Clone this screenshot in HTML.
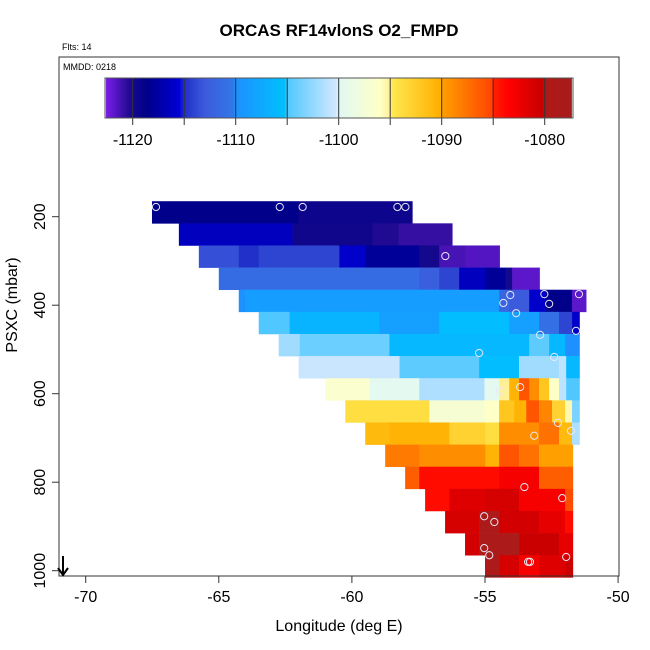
<!DOCTYPE html>
<html><head><meta charset="utf-8"><style>
body{margin:0;background:#fff;}
svg{display:block;font-family:"Liberation Sans",sans-serif;}
</style></head><body>
<svg id="chart" width="650" height="650" viewBox="0 0 650 650" xmlns="http://www.w3.org/2000/svg">
<rect width="650" height="650" fill="#fff"/>
<text x="339" y="36" text-anchor="middle" font-size="17" font-weight="bold">ORCAS RF14vlonS O2_FMPD</text>
<text x="62" y="50" font-size="9">Flts: 14</text>
<g id="cells"></g>
<g id="pts"></g>
<rect x="59" y="57" width="560" height="519" fill="none" stroke="#333" stroke-width="1"/>
<text x="63" y="70" font-size="9">MMDD: 0218</text>
<g id="cbar"></g>
<g id="axes"></g>
<text x="339" y="631" text-anchor="middle" font-size="16">Longitude (deg E)</text>
<text transform="translate(17,305) rotate(-90)" text-anchor="middle" font-size="16">PSXC (mbar)</text>
<g stroke="#000" stroke-width="2" fill="none">
<line x1="63" y1="556" x2="63" y2="575"/><polyline points="58,568 63,575 68,568"/>
</g>
</svg>
<script>
const rowPressures=[190,240,290,340,390,440,490,540,590,640,690,740,790,840,890,940,990];
const rowBreaks=[
[-67.51,-62.0,-57.73],
[-66.5,-62.23,-59.23,-58.25,-56.23],
[-65.75,-64.25,-63.5,-60.47,-59.49,-57.47,-56.72,-55.74,-54.45],
[-65.0,-57.47,-56.72,-55.97,-54.99,-54.24,-53.98,-52.95],
[-64.25,-64.02,-54.47,-54.09,-53.34,-52.74,-51.73,-51.2],
[-63.5,-62.34,-58.97,-56.72,-54.09,-52.97,-52.22,-51.73,-51.45],
[-62.75,-61.96,-58.59,-53.34,-52.59,-51.99,-51.45],
[-62.0,-58.21,-55.22,-53.72,-52.22,-51.95,-51.45],
[-61.0,-59.34,-57.47,-55.02,-54.47,-54.09,-53.72,-53.34,-52.97,-52.59,-52.22,-51.95,-51.45],
[-60.25,-57.09,-55.02,-54.47,-53.9,-53.45,-52.97,-52.48,-51.99,-51.73,-51.45],
[-59.5,-58.59,-56.34,-54.99,-54.47,-52.97,-52.22,-51.73,-51.45],
[-58.75,-57.47,-54.99,-54.47,-53.72,-52.97,-51.7],
[-58.0,-57.47,-54.47,-52.97,-51.7],
[-57.25,-56.34,-54.99,-53.72,-51.99,-51.7],
[-56.5,-55.22,-54.47,-52.97,-51.99,-51.7],
[-55.75,-55.22,-53.72,-52.22,-51.7],
[-55.0,-54.47,-53.72,-52.97,-51.99,-51.7]
];
const rowValues=[
[-1118.5,-1119.5],
[-1116.5,-1119.6,-1120.3,-1120.8],
[-1113.5,-1115,-1114,-1116,-1118,-1120,-1121.3,-1121.6],
[-1111.3,-1112.5,-1114,-1116.5,-1118,-1120,-1121.8],
[-1110,-1108.6,-1112,-1113,-1116,-1118.5,-1121.8],
[-1105,-1106.5,-1108.5,-1105.5,-1108.5,-1111,-1114,-1116],
[-1102,-1104,-1106,-1104.5,-1106,-1110],
[-1100.5,-1104.5,-1105.5,-1102,-1101,-1106],
[-1096.5,-1099.5,-1101.5,-1099.5,-1095,-1090.5,-1086,-1089,-1092,-1096,-1101,-1105],
[-1094,-1097,-1096,-1092,-1090.5,-1086,-1088.5,-1093,-1095.5,-1103.5],
[-1091,-1090.5,-1093,-1094,-1089,-1087.5,-1091,-1101.5],
[-1088,-1089,-1090.5,-1086,-1087.5,-1090],
[-1086.5,-1084,-1083,-1086.5],
[-1084,-1081.5,-1081,-1083,-1085.5],
[-1081,-1079,-1080.8,-1082,-1084],
[-1080.8,-1079,-1080.3,-1082],
[-1079,-1081,-1083,-1081.5,-1080.5]
];
const pointLons=[-67.36,-62.71,-61.85,-58.29,-57.99,-56.49,-54.05,-54.31,-52.77,-52.59,-51.47,-53.83,-52.93,-51.58,-55.22,-52.40,-54.43,-53.68,-52.26,-51.77,-53.15,-53.52,-52.10,-55.03,-54.65,-55.03,-54.84,-53.38,-53.31,-51.95];
const pointPres=[178,178,178,178,178,289,377,395,375,397,375,418,467,458,508,517,594,585,666,684,695,811,836,877,890,949,965,980,980,969];
const xTicks=[-70,-65,-60,-55,-50];
const yTicks=[200,400,600,800,1000];
const cbTicks=[-1120,-1110,-1100,-1090,-1080];
const cbBounds=[-1122.6,-1120,-1115,-1110,-1105,-1100,-1095,-1090,-1085,-1080,-1077.4];

const NS="http://www.w3.org/2000/svg";
const xs=lon=>85.7+(lon+70)*26.62;
const ys=p=>216.7+(p-200)*0.4425;
const cbx=v=>132.7+(v+1120)*10.3;
const stops=[[-1122.6,[122,30,232]],[-1120.5,[40,12,150]],[-1120,[20,8,140]],[-1118.5,[0,0,139]],[-1115.5,[0,0,215]],[-1115,[32,48,200]],[-1113,[60,90,220]],[-1110.2,[50,120,232]],[-1110,[30,144,255]],[-1105.2,[0,192,255]],[-1105,[80,200,255]],[-1100.2,[210,232,255]],[-1100,[224,248,244]],[-1096,[255,255,200]],[-1095,[255,240,150]],[-1094.8,[255,232,80]],[-1090.2,[255,176,0]],[-1090,[255,160,0]],[-1085.2,[255,70,0]],[-1085,[255,32,0]],[-1083.5,[255,0,0]],[-1080.2,[200,0,0]],[-1080,[176,24,24]],[-1077.4,[168,28,28]]];
function col(v){
  if(v<=stops[0][0])return `rgb(${stops[0][1]})`;
  for(let i=1;i<stops.length;i++){if(v<=stops[i][0]){const a=stops[i-1],b=stops[i];const t=(v-a[0])/(b[0]-a[0]);
    return `rgb(${a[1].map((c,k)=>Math.round(c+(b[1][k]-c)*t)).join(',')})`;}}
  return `rgb(${stops[stops.length-1][1]})`;
}
const cells=document.getElementById('cells');
rowPressures.forEach((p,r)=>{
  const br=rowBreaks[r],vals=rowValues[r];
  vals.forEach((v,i)=>{
    const el=document.createElementNS(NS,'rect');
    
    
    const x0=xs(br[i]),x1=xs(br[i+1]);
    el.setAttribute('x',x0);el.setAttribute('width',x1-x0+0.3);
    el.setAttribute('y',ys(p-25));el.setAttribute('height',ys(p+25)-ys(p-25)+0.3);
    el.setAttribute('fill',col(v));cells.appendChild(el);
  });
});
const pts=document.getElementById('pts');
pointLons.forEach((lon,i)=>{
  const c=document.createElementNS(NS,'circle');
  
  
  c.setAttribute('cx',xs(lon));c.setAttribute('cy',ys(pointPres[i]));c.setAttribute('r',3.6);
  c.setAttribute('fill','none');c.setAttribute('stroke','#e8e8f8');c.setAttribute('stroke-width','1');
  pts.appendChild(c);
});
const cb=document.getElementById('cbar');
const N=200;
for(let i=0;i<N;i++){
  const v0=-1122.6+i*(45.2/N),v1=v0+45.2/N;
  const r=document.createElementNS(NS,'rect');
  
  
  r.setAttribute('x',cbx(v0));r.setAttribute('width',cbx(v1)-cbx(v0)+0.4);
  r.setAttribute('y',78);r.setAttribute('height',40);r.setAttribute('fill',col((v0+v1)/2));cb.appendChild(r);
}
cbBounds.slice(1,-1).forEach(v=>{
  const l=document.createElementNS(NS,'line');
  
  
  l.setAttribute('x1',cbx(v));l.setAttribute('x2',cbx(v));l.setAttribute('y1',78);l.setAttribute('y2',v%10===0?125:125);
  l.setAttribute('stroke','#333');l.setAttribute('stroke-width','1');cb.appendChild(l);
});
const fr=document.createElementNS(NS,'rect');


fr.setAttribute('x',105);fr.setAttribute('y',78);fr.setAttribute('width',468);fr.setAttribute('height',40);
fr.setAttribute('fill','none');fr.setAttribute('stroke','#555');cb.appendChild(fr);
cbTicks.forEach(v=>{
  const t=document.createElementNS(NS,'text');
  
  
  t.setAttribute('x',cbx(v));t.setAttribute('y',145);t.setAttribute('text-anchor','middle');t.setAttribute('font-size','16');
  t.textContent=v;cb.appendChild(t);
});
const ax=document.getElementById('axes');
xTicks.forEach(v=>{
  const l=document.createElementNS(NS,'line');
  
  
  l.setAttribute('x1',xs(v));l.setAttribute('x2',xs(v));l.setAttribute('y1',576);l.setAttribute('y2',583);l.setAttribute('stroke','#333');ax.appendChild(l);
  const t=document.createElementNS(NS,'text');
  
  
  t.setAttribute('x',xs(v));t.setAttribute('y',602);t.setAttribute('text-anchor','middle');t.setAttribute('font-size','16');
  t.textContent=v;ax.appendChild(t);
});
yTicks.forEach(v=>{
  const l=document.createElementNS(NS,'line');
  
  
  l.setAttribute('x1',52);l.setAttribute('x2',59);l.setAttribute('y1',ys(v));l.setAttribute('y2',ys(v));l.setAttribute('stroke','#333');ax.appendChild(l);
  const t=document.createElementNS(NS,'text');
  
  
  t.setAttribute('transform',`translate(45,${ys(v)}) rotate(-90)`);t.setAttribute('text-anchor','middle');t.setAttribute('font-size','16');
  t.textContent=v;ax.appendChild(t);
});
</script>
</body></html>
